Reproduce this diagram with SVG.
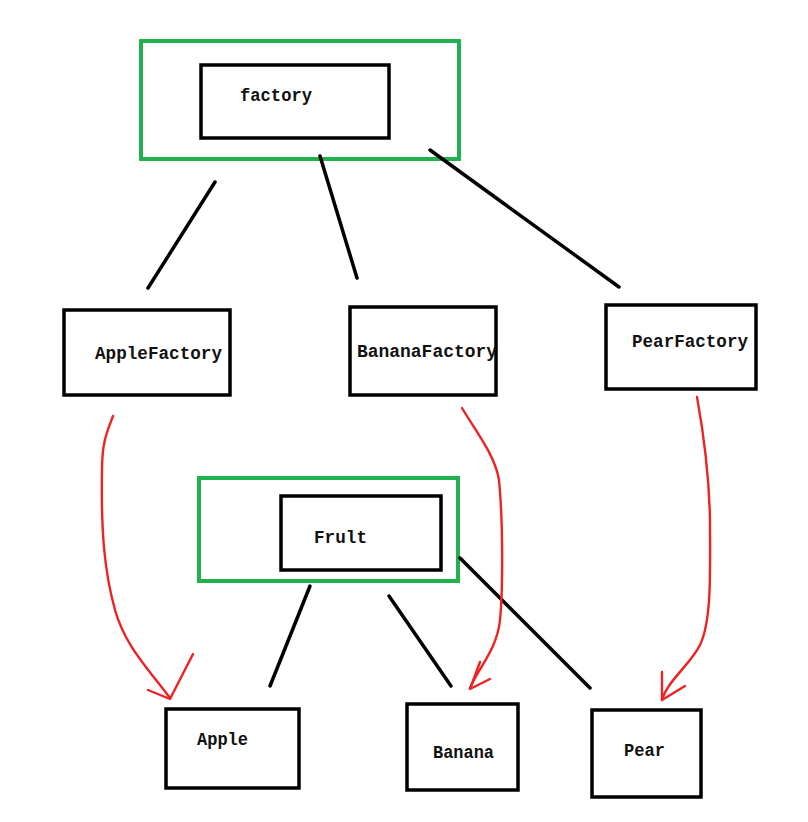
<svg xmlns="http://www.w3.org/2000/svg" width="808" height="822" viewBox="0 0 808 822">
<style>
.grp{fill:none;stroke:#22b14c;stroke-width:4}
.box{fill:#fff;stroke:#000;stroke-width:3.5}
.lbl{font-family:"Liberation Mono",monospace;font-weight:bold;font-size:18px;fill:#111}
.ln{fill:none;stroke:#000;stroke-width:3.5;stroke-linecap:round}
.rd{fill:none;stroke:#ee2222;stroke-width:2.4;stroke-linecap:round;stroke-linejoin:round}
</style>
<rect width="808" height="822" fill="#fff"/>
<g id="factory-group"><rect class="grp" x="141" y="41" width="318" height="118"/></g>
<g id="factory"><rect class="box" x="201" y="65" width="188" height="73"/><text class="lbl" x="240" y="101" textLength="72" lengthAdjust="spacingAndGlyphs">factory</text></g>
<g id="AppleFactory"><rect class="box" x="64" y="310" width="166" height="85"/><text class="lbl" x="95" y="359" textLength="127" lengthAdjust="spacingAndGlyphs">AppleFactory</text></g>
<g id="BananaFactory"><rect class="box" x="350" y="307" width="146" height="88"/><text class="lbl" x="357" y="357" textLength="140" lengthAdjust="spacingAndGlyphs">BananaFactory</text></g>
<g id="PearFactory"><rect class="box" x="606" y="305" width="150" height="84"/><text class="lbl" x="632" y="347" textLength="116" lengthAdjust="spacingAndGlyphs">PearFactory</text></g>
<g id="fruit-group"><rect class="grp" x="199" y="478" width="259" height="103"/></g>
<g id="Frult"><rect class="box" x="281" y="496" width="160" height="74"/><text class="lbl" x="314" y="543" textLength="53" lengthAdjust="spacingAndGlyphs">Frult</text></g>
<g id="Apple"><rect class="box" x="166" y="709" width="133" height="79"/><text class="lbl" x="197" y="745" textLength="51" lengthAdjust="spacingAndGlyphs">Apple</text></g>
<g id="Banana"><rect class="box" x="407" y="704" width="111" height="86"/><text class="lbl" x="433" y="758" textLength="61" lengthAdjust="spacingAndGlyphs">Banana</text></g>
<g id="Pear"><rect class="box" x="592" y="710" width="109" height="87"/><text class="lbl" x="624" y="756" textLength="41" lengthAdjust="spacingAndGlyphs">Pear</text></g>
<g id="connectors">
<line class="ln" x1="215" y1="182" x2="148" y2="288"/>
<line class="ln" x1="320" y1="156" x2="357" y2="278"/>
<line class="ln" x1="430" y1="150" x2="619" y2="287"/>
<line class="ln" x1="310" y1="586" x2="270" y2="686"/>
<line class="ln" x1="389" y1="596" x2="451" y2="686"/>
<line class="ln" x1="460" y1="558" x2="590" y2="688"/>
<path class="rd" d="M113,416 C108,430 102,440 102,470 C101,530 104,570 115,610 C125,645 145,665 170,698"/>
<path class="rd" d="M148,690 L170,699 L193,654"/>
<path class="rd" d="M462,408 C475,430 495,455 499,480 C503,520 503,590 500,620 C497,650 478,668 470,688"/>
<path class="rd" d="M480,662 L470,689 L490,679"/>
<path class="rd" d="M697,397 C703,430 709,470 710,520 C710,570 712,620 700,645 C690,665 668,680 662,700"/>
<path class="rd" d="M662,672 L662,700 L685,686"/>
</g>
</svg>
